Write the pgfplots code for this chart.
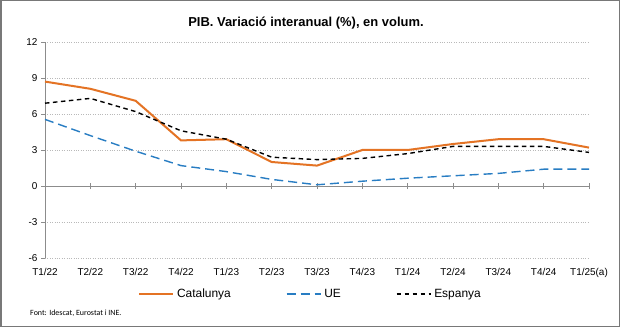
\documentclass[border=0pt]{standalone}
\usepackage{pgfplots}
\pgfplotsset{compat=1.18}
\usepackage{fontspec}
\setmainfont{Liberation Sans}
\newfontfamily\carlito{Carlito}
\definecolor{cat}{RGB}{228,115,36}
\definecolor{ue}{RGB}{40,125,195}
\definecolor{gridc}{RGB}{185,185,185}
\definecolor{axc}{RGB}{140,140,140}
\definecolor{framec}{RGB}{120,120,120}
\begin{document}
\begin{tikzpicture}
\useasboundingbox (0,0) rectangle (620bp,327bp);
\fill[white] (0,0) rectangle (620bp,327bp);
\draw[framec, line width=1.5bp] (0.75bp,0.75bp) rectangle (619.25bp,326.25bp);
\node[font=\bfseries\fontsize{13}{15}\selectfont] at (306bp,304bp) {PIB. Variació interanual (\%), en volum.};
\node[anchor=west, font=\carlito\fontsize{8}{9}\selectfont, inner sep=0pt] at (30bp,14bp) {Font: Idescat, Eurostat i INE.};
\begin{axis}[
  at={(45bp,69bp)}, anchor=south west,
  scale only axis, width=544bp, height=216bp,
  xmin=0, xmax=12, ymin=-6, ymax=12,
  axis x line*=bottom, axis y line*=left,
  x axis line style={draw=none},
  y axis line style={draw=axc, line width=0.8bp, -},
  xtick={0,...,12},
  xticklabels={T1/22,T2/22,T3/22,T4/22,T1/23,T2/23,T3/23,T4/23,T1/24,T2/24,T3/24,T4/24,T1/25(a)},
  xtick style={draw=none},
  ytick={-6,-3,0,3,6,9,12},
  ytick style={draw=axc, line width=0.8bp},
  tick align=outside, major tick length=4bp,
  ymajorgrids, grid style={gridc, dotted, line width=0.8bp},
  ticklabel style={font=\fontsize{10}{12}\selectfont},
  /pgf/number format/assume math mode=true,
  xticklabel style={yshift=-3bp},
  clip=false,
  legend columns=3,
  legend style={at={(axis description cs:0.171,-0.1667)}, anchor=west, draw=none, fill=none,
    inner sep=0pt, outer sep=0pt, font=\fontsize{12}{14}\selectfont,
    nodes={inner xsep=3bp, inner ysep=1.5bp},
    /tikz/every even column/.append style={column sep=52bp}},
  legend image code/.code={\draw[#1] (0bp,0bp) -- (34bp,0bp);},
]
\draw[axc, line width=0.8bp] (axis cs:0,0) -- (axis cs:12,0);
\pgfplotsinvokeforeach{1,2,3,4,5,6,7,8,9,10,11,12}{
  \draw[axc, line width=0.8bp] (axis cs:#1,-0.27) -- (axis cs:#1,0.27);
}
\addplot[cat, line width=2bp] coordinates {
(0,8.7)(1,8.1)(2,7.1)(3,3.8)(4,3.9)(5,2.0)(6,1.7)(7,3.0)(8,3.0)(9,3.5)(10,3.9)(11,3.9)(12,3.2)};
\addlegendentry{Catalunya}
\addplot[ue, line width=1.4bp, dash pattern=on 9bp off 5bp] coordinates {
(0,5.55)(1,4.2)(2,2.9)(3,1.7)(4,1.2)(5,0.55)(6,0.1)(7,0.4)(8,0.65)(9,0.85)(10,1.05)(11,1.4)(12,1.4)};
\addlegendentry{UE}
\addplot[black, line width=1.4bp, dash pattern=on 4.5bp off 3.5bp] coordinates {
(0,6.9)(1,7.3)(2,6.2)(3,4.6)(4,3.9)(5,2.4)(6,2.2)(7,2.3)(8,2.7)(9,3.3)(10,3.3)(11,3.3)(12,2.8)};
\addlegendentry{Espanya}
\end{axis}
\end{tikzpicture}
\end{document}
